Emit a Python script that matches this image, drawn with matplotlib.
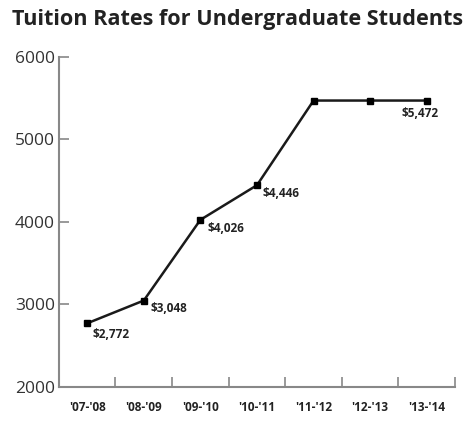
import matplotlib
matplotlib.use("Agg")
import matplotlib.pyplot as plt

years = ["'07-'08", "'08-'09", "'09-'10", "'10-'11", "'11-'12", "'12-'13", "'13-'14"]
tuition = [2772, 3048, 4026, 4446, 5472, 5472, 5472]
label_text = ["$2,772", "$3,048", "$4,026", "$4,446", "", "", "$5,472"]
y_ticks = [2000, 3000, 4000, 5000, 6000]

plt.rcParams['font.family'] = ['Open Sans', 'DejaVu Sans']

fig = plt.figure(figsize=(4.75, 4.24), dpi=100)
ax = fig.add_axes([0.124, 0.0873, 0.834, 0.7783])

xs = list(range(len(years)))
ax.plot(xs, tuition, color='#1a1a1a', lw=1.8, marker='s', ms=4.5, mfc='#000', mec='#000')

offsets = [(4, -8), (5, -6), (5, -6), (4, -6), (0, 0), (0, 0), (-18, -9)]
for x, v, t, off in zip(xs, tuition, label_text, offsets):
    if t:
        ax.annotate(t, (x, v), xytext=off, textcoords='offset points',
                    ha='left', va='center', fontsize=8.5, fontweight='bold', color='#222')

ax.set_xlim(-0.5, len(years) - 0.5)
ax.set_ylim(2000, 6000)
ax.set_yticks(y_ticks)
ax.set_yticklabels([str(v) for v in y_ticks], fontsize=12.5, color='#333')
ax.set_xticks([i + 0.5 for i in range(len(years))])
ax.set_xticklabels([])
ax.set_xticks(xs, minor=True)
ax.set_xticklabels(years, minor=True, fontsize=8.5, fontweight='bold', color='#222')
ax.tick_params(axis='x', which='minor', length=0, pad=10)
ax.tick_params(axis='x', which='major', direction='in', length=7, color='#888', width=1.2)
ax.tick_params(axis='y', direction='in', length=7, color='#888', width=1.2, pad=3)

for s in ['top', 'right']:
    ax.spines[s].set_visible(False)
for s in ['left', 'bottom']:
    ax.spines[s].set_color('#888')
    ax.spines[s].set_linewidth(1.5)

fig.text(0.5, 0.955, "Tuition Rates for Undergraduate Students", ha='center', va='center',
         fontsize=15.6, fontweight='bold', color='#222')

fig.savefig("out.png", dpi=100)
